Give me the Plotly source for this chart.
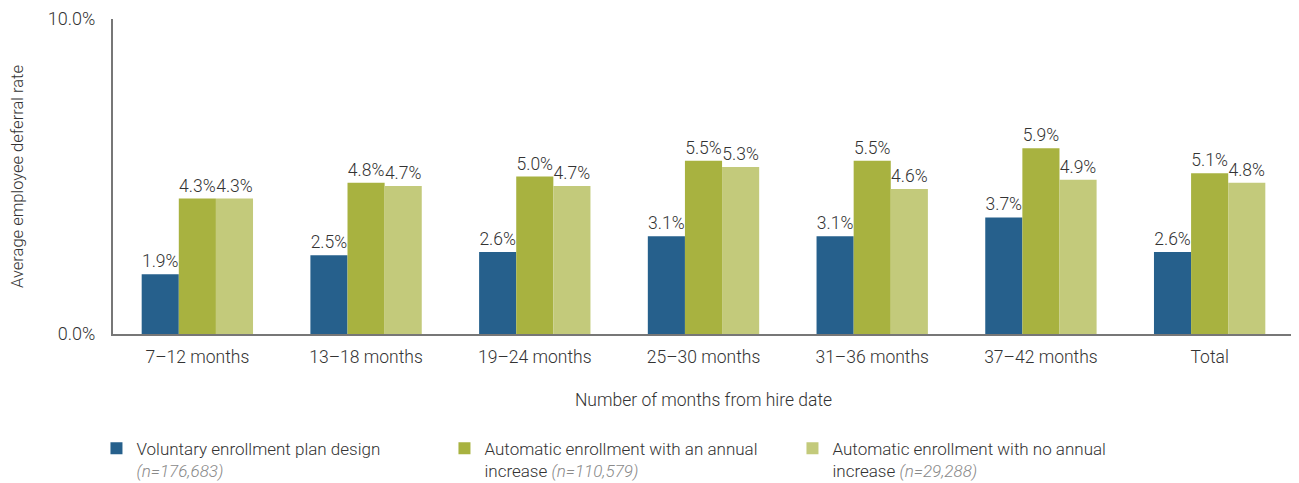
import plotly.graph_objects as go

categories = ["7–12 months", "13–18 months", "19–24 months", "25–30 months",
              "31–36 months", "37–42 months", "Total"]
voluntary = [1.9, 2.5, 2.6, 3.1, 3.1, 3.7, 2.6]
auto_increase = [4.3, 4.8, 5.0, 5.5, 5.5, 5.9, 5.1]
auto_no_increase = [4.3, 4.7, 4.7, 5.3, 4.6, 4.9, 4.8]
series_names = [
    "Voluntary enrollment plan design<br><i><span style='color:#8a8a8a'>(n=176,683)</span></i>",
    "Automatic enrollment with an annual<br>increase <i><span style='color:#8a8a8a'>(n=110,579)</span></i>",
    "Automatic enrollment with no annual<br>increase <i><span style='color:#8a8a8a'>(n=29,288)</span></i>",
]
colors = ["#26608C", "#A8B240", "#C3CA7B"]
y_ticks = [0, 10]
y_ticktext = ["0.0%", "10.0%"]

FONT = "Roboto"
TXT = "#333333"
W = 300

fig = go.Figure()
for name, vals, col in zip(series_names, [voluntary, auto_increase, auto_no_increase], colors):
    fig.add_trace(go.Bar(
        x=categories, y=vals, name=name, marker=dict(color=col, line=dict(width=0)),
        text=[f"{v:.1f}%" for v in vals], textposition="outside",
        textfont=dict(size=17.5, color=TXT, family=FONT, weight=W), cliponaxis=False,
    ))

fig.update_layout(
    barmode="group", bargap=0.34, bargroupgap=0,
    width=1291, height=475,
    margin=dict(l=105, r=5, t=11, b=149, autoexpand=False),
    plot_bgcolor="white", paper_bgcolor="white",
    font=dict(family=FONT, color=TXT, size=16, weight=W),
    showlegend=True,
    legend=dict(orientation="h", x=-0.014, xanchor="left", y=-0.307, yanchor="top",
                entrywidth=303, entrywidthmode="pixels",
                font=dict(size=17, color=TXT, family=FONT, weight=W), traceorder="normal",
                valign="top"),
)
fig.update_xaxes(showline=True, linecolor="#777777", linewidth=2, ticks="", automargin=False,
                 tickfont=dict(size=17.5, color=TXT, weight=W), showgrid=False, ticklabelstandoff=6,
                 title=dict(text="Number of months from hire date", font=dict(size=17.5, color=TXT, weight=W), standoff=28))
fig.update_yaxes(range=[0, 10], showline=True, linecolor="#777777", linewidth=2, automargin=False,
                 tickvals=y_ticks, ticktext=y_ticktext, ticks="", showgrid=False, zeroline=False,
                 ticklabeloverflow="allow",
                 tickfont=dict(size=18, color=TXT, weight=W), ticklabelstandoff=12,
                 title=dict(text="Average employee deferral rate", font=dict(size=16.5, color=TXT, weight=W), standoff=38))

fig.write_html("out.html")
